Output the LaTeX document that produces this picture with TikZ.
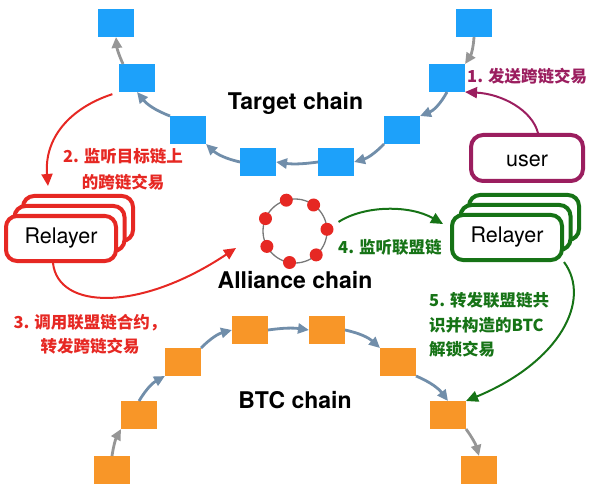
\documentclass[tikz,border=0pt]{standalone}
\usepackage{fontspec}
\setmainfont{TeX Gyre Heros}
\newfontfamily\cjk{Noto Sans CJK SC}
\usetikzlibrary{arrows.meta}
\definecolor{cblue}{RGB}{29,161,250}
\definecolor{corange}{RGB}{248,150,40}
\definecolor{cslate}{RGB}{113,142,170}
\definecolor{cgray}{RGB}{150,150,150}
\definecolor{cred}{RGB}{230,40,35}
\definecolor{cgreen}{RGB}{22,115,22}
\definecolor{cpurple}{RGB}{155,30,95}
\definecolor{cring}{RGB}{120,120,120}
\begin{document}
\begin{tikzpicture}[x=1pt,y=-1pt,
  bsq/.style={fill=cblue, minimum width=36pt, minimum height=28pt, inner sep=0pt, outer sep=0pt},
  osq/.style={fill=corange, minimum width=36pt, minimum height=28pt, inner sep=0pt, outer sep=0pt},
  carr/.style={line width=2.8pt, draw=cslate, -{Triangle[length=11pt,width=10pt]}},
  garr/.style={line width=2.8pt, draw=cgray, -{Triangle[length=11pt,width=10pt]}},
  relay/.style={draw, line width=4pt, rounded corners=11pt, minimum width=110pt, minimum height=45pt, fill=white, font=\fontsize{21.5}{24}\selectfont},
  title/.style={font=\bfseries\fontsize{23}{26}\selectfont, anchor=base},
  lab/.style={font=\cjk\bfseries\fontsize{16.5}{24.5}\selectfont, inner sep=0pt},
  larr/.style={line width=2pt, -{Triangle[length=12pt,width=11pt]}},
  dot/.style={circle, fill=cred, minimum size=13pt, inner sep=0pt}
]
\useasboundingbox (0,0) rectangle (596,494);

% Target chain blocks
\node[bsq] (B1) at (116,23) {};
\node[bsq] (B2) at (137,78) {};
\node[bsq] (B3) at (188,130) {};
\node[bsq] (B4) at (258,162) {};
\node[bsq] (B5) at (336,162) {};
\node[bsq] (B6) at (402,130) {};
\node[bsq] (B7) at (447,78) {};
\node[bsq] (B8) at (474,23) {};

\draw[garr] (B8.south) to[bend left=15] (B7.north east);
\draw[carr] (B7.south) to[bend left=20] (B6.north east);
\draw[carr] (B6.south west) to[bend left=15] (B5.east);
\draw[carr] (B5.west) to[bend left=8] (B4.east);
\draw[carr] (B4.west) to[bend left=15] (B3.south east);
\draw[carr] (B3.north west) to[bend left=15] (B2.south);
\draw[garr] ([xshift=4pt]B2.north west) to[bend left=10] (B1.south);

\node[title] (tT) at (295.5,110) {Target chain};

% BTC chain blocks
\node[osq] (O1) at (112,470) {};
\node[osq] (O2) at (139,415) {};
\node[osq] (O3) at (183,362) {};
\node[osq] (O4) at (250,330) {};
\node[osq] (O5) at (327,330) {};
\node[osq] (O6) at (398,362) {};
\node[osq] (O7) at (448,415) {};
\node[osq] (O8) at (479,470) {};

\draw[garr] (O1.north) to[bend left=10] (O2.south west);
\draw[carr] (O2.north) to[bend left=15] (O3.south west);
\draw[carr] (O3.north east) to[bend left=15] (O4.west);
\draw[carr] (O4.east) to[bend left=8] (O5.west);
\draw[carr] (O5.east) to[bend left=15] (O6.north west);
\draw[carr] (O6.south east) to[bend left=15] (O7.north);
\draw[garr] (O7.south east) to[bend left=10] (O8.north);

\node[title] (tB) at (295,408) {BTC chain};

% Alliance chain ring
\node[circle, draw=cring, line width=1.3pt, minimum size=64pt, inner sep=0pt] (ring) at (295,231) {};
\node[dot] (d1) at (327.0,229.3) {};
\node[dot] (d2) at (313.6,205.0) {};
\node[dot] (d3) at (286.3,200.2) {};
\node[dot] (d4) at (265.5,218.6) {};
\node[dot] (d5) at (266.9,246.4) {};
\node[dot] (d6) at (289.5,262.5) {};
\node[dot] (d7) at (316.2,254.9) {};
\node[title] (tA) at (295,288) {Alliance chain};

% user
\node[draw=cpurple, line width=4pt, rounded corners=12pt, minimum width=112pt, minimum height=46pt,
      font=\fontsize{21.5}{24}\selectfont, text height=18pt, text depth=0pt] (user) at (527,158) {user};

% Relayers red
\node[relay, draw=cred] (R3) at (78,218.5) {};
\node[relay, draw=cred] (R2) at (69.5,228.5) {};
\node[relay, draw=cred] (R1) at (61,238.5) {Relayer};

% Relayers green
\node[relay, draw=cgreen] (G3) at (524,217.5) {};
\node[relay, draw=cgreen] (G2) at (515.5,227.5) {};
\node[relay, draw=cgreen] (G1) at (507,237.5) {Relayer};

% labels
\node[lab, text=cpurple, anchor=west] (L1) at (467,76) {1. 发送跨链交易};
\node[lab, text=cred, align=center, font=\cjk\bfseries\fontsize{16.5}{26}\selectfont] (L2) at (123,169.5) {2. 监听目标链上\\的跨链交易};
\node[lab, text=cred, align=center] (L3) at (90,334) {3. 调用联盟链合约，\\转发跨链交易};
\node[lab, text=cgreen, anchor=west] (L4) at (338,247) {4. 监听联盟链};
\node[lab, text=cgreen, align=left, anchor=west] (L5) at (429,325) {5. 转发联盟链共\\识并构造的BTC\\解锁交易};

% step arrows
\coordinate (r2end) at (48,186);
\coordinate (g4end) at (443,224);
\coordinate (r3end) at (236,248);
\draw[larr, draw=cpurple] ([xshift=11pt]user.north) .. controls (532,110) and (502,94) .. (B7.south east);
\draw[larr, draw=cred, shorten <=7pt] (B2.south west) .. controls (70,108) and (44,138) .. (r2end);
\draw[larr, draw=cred] ([xshift=-8pt]R1.south) .. controls (58,310) and (140,312) .. (r3end);
\draw[larr, draw=cgreen, shorten <=7pt] (d1) .. controls (365,205) and (410,205) .. (g4end);
\draw[larr, draw=cgreen] (G1.south east) .. controls (592,300) and (560,362) .. (O7.north east);
\end{tikzpicture}
\end{document}
